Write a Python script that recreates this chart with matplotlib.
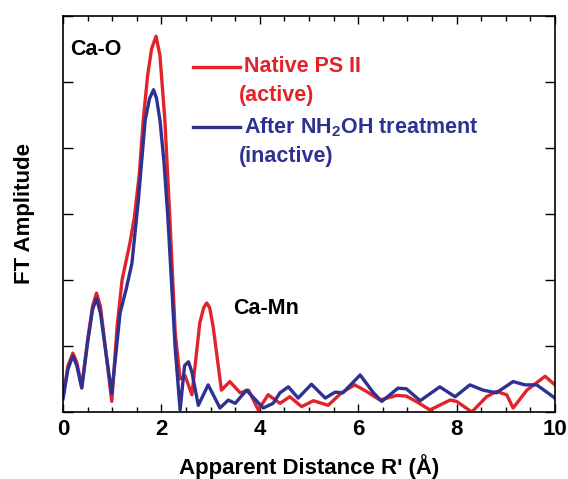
import numpy as np
import matplotlib
matplotlib.use("Agg")
import matplotlib.pyplot as plt
from matplotlib.ticker import MultipleLocator

plt.rcParams['font.family'] = ['Liberation Sans', 'DejaVu Sans']
plt.rcParams['font.weight'] = 'bold'
plt.rcParams['mathtext.fontset'] = 'custom'
plt.rcParams['mathtext.bf'] = 'Liberation Sans:bold'
plt.rcParams['mathtext.default'] = 'bf'

# FT of Ca EXAFS, native vs NH2OH-treated PS II
r_native = [0, 0.1, 0.2, 0.28, 0.38, 0.5, 0.6, 0.68, 0.76, 0.88, 0.99, 1.1, 1.2,
            1.36, 1.45, 1.55, 1.63, 1.72, 1.8, 1.89, 1.97, 2.07, 2.17, 2.28, 2.38,
            2.48, 2.62, 2.78, 2.86, 2.92, 2.98, 3.05, 3.22, 3.39, 3.6, 3.77, 3.97,
            4.17, 4.41, 4.61, 4.85, 5.09, 5.39, 5.66, 5.93, 6.17, 6.44, 6.78, 6.98,
            7.2, 7.46, 7.87, 8.0, 8.31, 8.61, 8.81, 9.02, 9.15, 9.43, 9.8, 10.0]
ft_native = [0.23, 0.7, 0.89, 0.75, 0.38, 1.1, 1.6, 1.8, 1.6, 0.85, 0.16, 1.3, 2.0,
             2.56, 2.95, 3.6, 4.42, 5.1, 5.5, 5.69, 5.4, 4.42, 2.96, 1.2, 0.5,
             0.55, 0.26, 1.35, 1.58, 1.65, 1.58, 1.3, 0.33, 0.46, 0.29, 0.33, 0.03,
             0.26, 0.13, 0.23, 0.08, 0.17, 0.10, 0.29, 0.41, 0.31, 0.18, 0.25, 0.24,
             0.15, 0.03, 0.18, 0.16, 0.0, 0.23, 0.31, 0.26, 0.06, 0.33, 0.54, 0.41]

r_treated = [0, 0.1, 0.2, 0.28, 0.38, 0.5, 0.6, 0.68, 0.76, 0.88, 0.99, 1.16, 1.28,
             1.4, 1.53, 1.67, 1.76, 1.84, 1.9, 1.97, 2.05, 2.13, 2.28, 2.38, 2.47,
             2.55, 2.62, 2.75, 2.95, 3.19, 3.36, 3.5, 3.73, 4.07, 4.27, 4.41, 4.58,
             4.78, 5.05, 5.33, 5.53, 5.69, 6.04, 6.31, 6.48, 6.81, 6.98, 7.26, 7.66,
             7.97, 8.27, 8.54, 8.81, 9.15, 9.39, 9.63, 10.0]
ft_treated = [0.2, 0.65, 0.85, 0.7, 0.36, 1.05, 1.55, 1.72, 1.5, 0.85, 0.28, 1.5, 1.85,
              2.25, 3.2, 4.42, 4.75, 4.88, 4.75, 4.42, 3.8, 2.96, 0.96, 0.03, 0.7,
              0.76, 0.6, 0.1, 0.41, 0.06, 0.18, 0.13, 0.33, 0.06, 0.13, 0.29, 0.38,
              0.21, 0.42, 0.21, 0.30, 0.29, 0.56, 0.29, 0.16, 0.36, 0.35, 0.17, 0.38,
              0.23, 0.41, 0.33, 0.29, 0.46, 0.41, 0.41, 0.21]

red = '#e2232a'
blue = '#2e3192'

fig = plt.figure(figsize=(5.68, 4.79), dpi=100)
ax = fig.add_axes([0.111, 0.140, 0.866, 0.827])

ax.plot(r_native, ft_native, color=red, lw=2.4)
ax.plot(r_treated, ft_treated, color=blue, lw=2.4)

ax.set_xlim(0, 10)
ax.set_ylim(0, 6)
ax.xaxis.set_major_locator(MultipleLocator(2))
ax.xaxis.set_minor_locator(MultipleLocator(0.5))
ax.yaxis.set_major_locator(MultipleLocator(1))
ax.tick_params(axis='both', which='both', direction='in', top=True, right=True,
               width=1.0, labelsize=16)
ax.tick_params(axis='x', which='major', length=6, pad=5)
ax.tick_params(axis='x', which='minor', length=3.5)
ax.tick_params(axis='y', which='major', length=7, labelleft=False)
for s in ax.spines.values():
    s.set_linewidth(1.2)

ax.set_xlabel("Apparent Distance R' (Å)", fontsize=16, fontweight='bold', labelpad=10)
ax.set_ylabel("FT Amplitude", fontsize=16, fontweight='bold', labelpad=20)

ax.text(0.015, 0.915, "Ca-O", transform=ax.transAxes, fontsize=15.5,
        fontweight='bold', va='center', ha='left')
ax.text(0.345, 0.262, "Ca-Mn", transform=ax.transAxes, fontsize=15.5,
        fontweight='bold', va='center', ha='left')

# hand-made legend
for yl, col, l1, l2 in [(0.871, red, "Native PS II", "(active)"),
                        (0.719, blue, "After NH$_2$OH treatment", "(inactive)")]:
    ax.plot([0.265, 0.36], [yl, yl], color=col, lw=2.4, transform=ax.transAxes)
    ax.text(0.368, yl, l1, color=col, transform=ax.transAxes, fontsize=15.5,
            fontweight='bold', va='center', ha='left')
    ax.text(0.358, yl - 0.073, l2, color=col, transform=ax.transAxes, fontsize=15.5,
            fontweight='bold', va='center', ha='left')

fig.savefig("out.png", dpi=100)
